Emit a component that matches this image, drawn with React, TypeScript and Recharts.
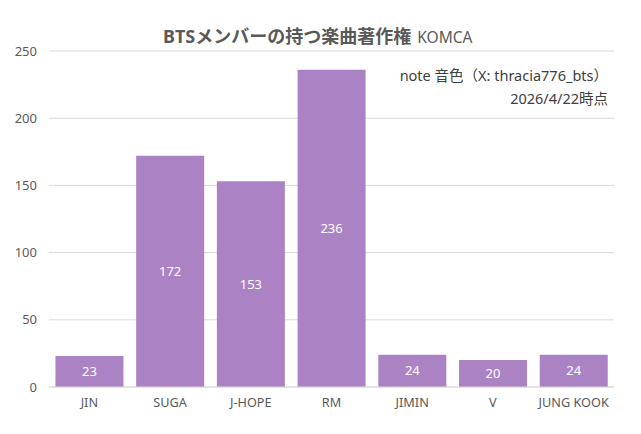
import React from 'react';
import { BarChart, Bar, XAxis, YAxis, CartesianGrid, LabelList } from 'recharts';

const members = ['JIN', 'SUGA', 'J-HOPE', 'RM', 'JIMIN', 'V', 'JUNG KOOK'];
const songCounts = [23, 172, 153, 236, 24, 20, 24];
const yTicks = [0, 50, 100, 150, 200, 250];

const data = members.map((name, i) => ({ name, count: songCounts[i] }));

const font = "'Noto Sans', 'Noto Sans CJK JP', sans-serif";
const gray = '#595959';

const App: React.FC = () => {
  return (
    <div style={{ position: 'relative', width: 625, height: 418, fontFamily: font }}>
      <div
        style={{
          position: 'absolute',
          left: 155,
          top: 14,
          whiteSpace: 'nowrap',
          color: gray,
        }}
      >
        <span style={{ fontSize: 18, fontWeight: 'bold' }}>BTSメンバーの持つ楽曲著作権</span>
        <span style={{ fontSize: 15.5, marginLeft: 6 }}>KOMCA</span>
      </div>
      <div
        style={{
          position: 'absolute',
          right: 25,
          top: 56,
          textAlign: 'right',
          fontSize: 14.5,
          lineHeight: '23px',
          color: '#404040',
          whiteSpace: 'nowrap',
          zIndex: 1,
        }}
      >
        <div>note 音色（X: thracia776_bts）</div>
        <div>2026/4/22時点</div>
      </div>
      <BarChart
        width={625}
        height={418}
        data={data}
        margin={{ top: 43, right: 19, bottom: 9, left: 0 }}
        barCategoryGap="8%"
      >
        <CartesianGrid vertical={false} stroke="#d9d9d9" />
        <XAxis
          dataKey="name"
          axisLine={{ stroke: '#d9d9d9' }}
          tickLine={false}
          tickMargin={5}
          height={30}
          interval={0}
          tick={{ fill: gray, fontSize: 12.7, fontFamily: font }}
        />
        <YAxis
          domain={[0, 250]}
          ticks={yTicks}
          width={41}
          axisLine={false}
          tickLine={false}
          tickMargin={6}
          tick={{ fill: gray, fontSize: 13, fontFamily: font }}
        />
        <Bar dataKey="count" fill="#ab83c5" isAnimationActive={false}>
          <LabelList dataKey="count" position="center" fill="#ffffff" fontSize={13} fontFamily={font} />
        </Bar>
      </BarChart>
    </div>
  );
};

export default App;
